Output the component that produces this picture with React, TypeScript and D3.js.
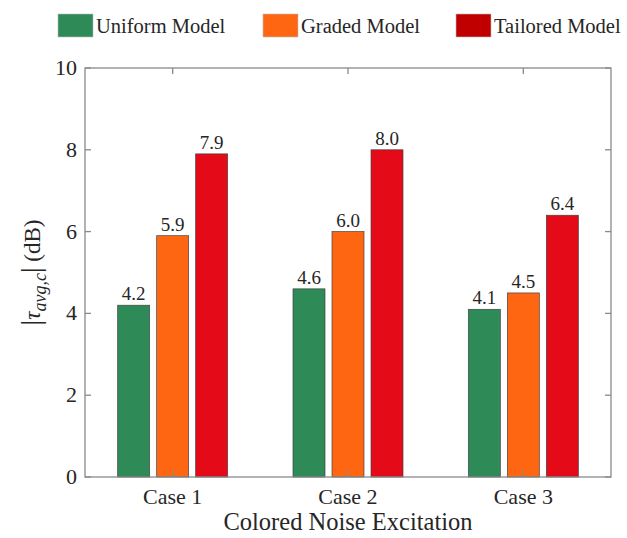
import React from "react";
import * as d3 from "d3";

const categories = ["Case 1", "Case 2", "Case 3"];
const seriesNames = ["Uniform Model", "Graded Model", "Tailored Model"];
const uniform = [4.2, 4.6, 4.1];
const graded = [5.9, 6.0, 4.5];
const tailored = [7.9, 8.0, 6.4];
const yTicks = [0, 2, 4, 6, 8, 10];

const seriesValues = [uniform, graded, tailored];
const barColors = ["#2E8B57", "#FF6612", "#E50A17"];
const legendColors = ["#2E8B57", "#FF6612", "#C00000"];

const W = 627;
const H = 538;
const margin = { left: 85, right: 16, top: 68, bottom: 61 };
const font = "Liberation Serif, Times New Roman, Times, serif";
const axisColor = "#8a8a8a";
const textColor = "#262626";

export default function App() {
  const x = d3
    .scalePoint<string>()
    .domain(categories)
    .range([margin.left, W - margin.right])
    .padding(0.5);
  const y = d3.scaleLinear().domain([0, 10]).range([H - margin.bottom, margin.top]);

  const barW = 32;
  const barStep = 39;
  const inner = d3.scaleLinear().domain([0, 2]).range([-barStep, barStep]);

  const x0 = margin.left;
  const x1 = W - margin.right;
  const y0 = y(0);
  const y1 = y(10);
  const tick = 6;

  const legendX = [58, 263, 456];

  return (
    <svg
      width={W}
      height={H}
      style={{ position: "absolute", left: 0, top: 0, fontFamily: font }}
    >
      <rect x={0} y={0} width={W} height={H} fill="#fff" />

      {/* legend */}
      {seriesNames.map((name, i) => (
        <g key={name}>
          <rect x={legendX[i]} y={14} width={35} height={23} fill={legendColors[i]} stroke="#bbb" strokeWidth={0.6} />
          <text x={legendX[i] + 38} y={33} style={{ fontFamily: font }} fontSize={20.5} fill={textColor}>
            {name}
          </text>
        </g>
      ))}

      {/* bars */}
      {categories.map((c, ci) =>
        seriesValues.map((vals, si) => {
          const cx = (x(c) as number) + inner(si);
          const v = vals[ci];
          return (
            <g key={c + si}>
              <rect
                x={cx - barW / 2}
                y={y(v)}
                width={barW}
                height={y0 - y(v)}
                fill={barColors[si]}
                stroke="#444"
                strokeWidth={0.7}
              />
              <text
                x={cx}
                y={y(v) - 5}
                textAnchor="middle"
                style={{ fontFamily: font }}
                fontSize={19}
                fill={textColor}
              >
                {v.toFixed(1)}
              </text>
            </g>
          );
        })
      )}

      {/* box */}
      <rect x={x0} y={y1} width={x1 - x0} height={y0 - y1} fill="none" stroke={axisColor} strokeWidth={1.3} />

      {/* y ticks */}
      {yTicks.map((t) => (
        <g key={t}>
          <line x1={x0} x2={x0 + tick} y1={y(t)} y2={y(t)} stroke={axisColor} strokeWidth={1.3} />
          <line x1={x1} x2={x1 - tick} y1={y(t)} y2={y(t)} stroke={axisColor} strokeWidth={1.3} />
          <text
            x={x0 - 8}
            y={y(t) + 7}
            textAnchor="end"
            style={{ fontFamily: font }}
            fontSize={22}
            fill={textColor}
          >
            {t}
          </text>
        </g>
      ))}

      {/* x ticks */}
      {categories.map((c) => (
        <g key={c}>
          <line x1={x(c)} x2={x(c)} y1={y0} y2={y0 - tick} stroke={axisColor} strokeWidth={1.3} />
          <line x1={x(c)} x2={x(c)} y1={y1} y2={y1 + tick} stroke={axisColor} strokeWidth={1.3} />
          <text
            x={x(c)}
            y={y0 + 27}
            textAnchor="middle"
            style={{ fontFamily: font }}
            fontSize={22}
            fill={textColor}
          >
            {c}
          </text>
        </g>
      ))}

      {/* x title */}
      <text
        x={(x0 + x1) / 2}
        y={y0 + 53}
        textAnchor="middle"
        style={{ fontFamily: font }}
        fontSize={24.5}
        fill={textColor}
      >
        Colored Noise Excitation
      </text>

      {/* y title */}
      <text
        transform={`translate(40, ${(y0 + y1) / 2}) rotate(-90)`}
        textAnchor="middle"
        style={{ fontFamily: font }}
        fontSize={23}
        fill={textColor}
      >
        <tspan fontSize={28}>|</tspan>
        <tspan fontStyle="italic">τ</tspan>
        <tspan fontStyle="italic" fontSize={18} dy={6}>avg,c</tspan>
        <tspan dy={-6} fontSize={28}>|</tspan>
        <tspan> (dB)</tspan>
      </text>
    </svg>
  );
}
